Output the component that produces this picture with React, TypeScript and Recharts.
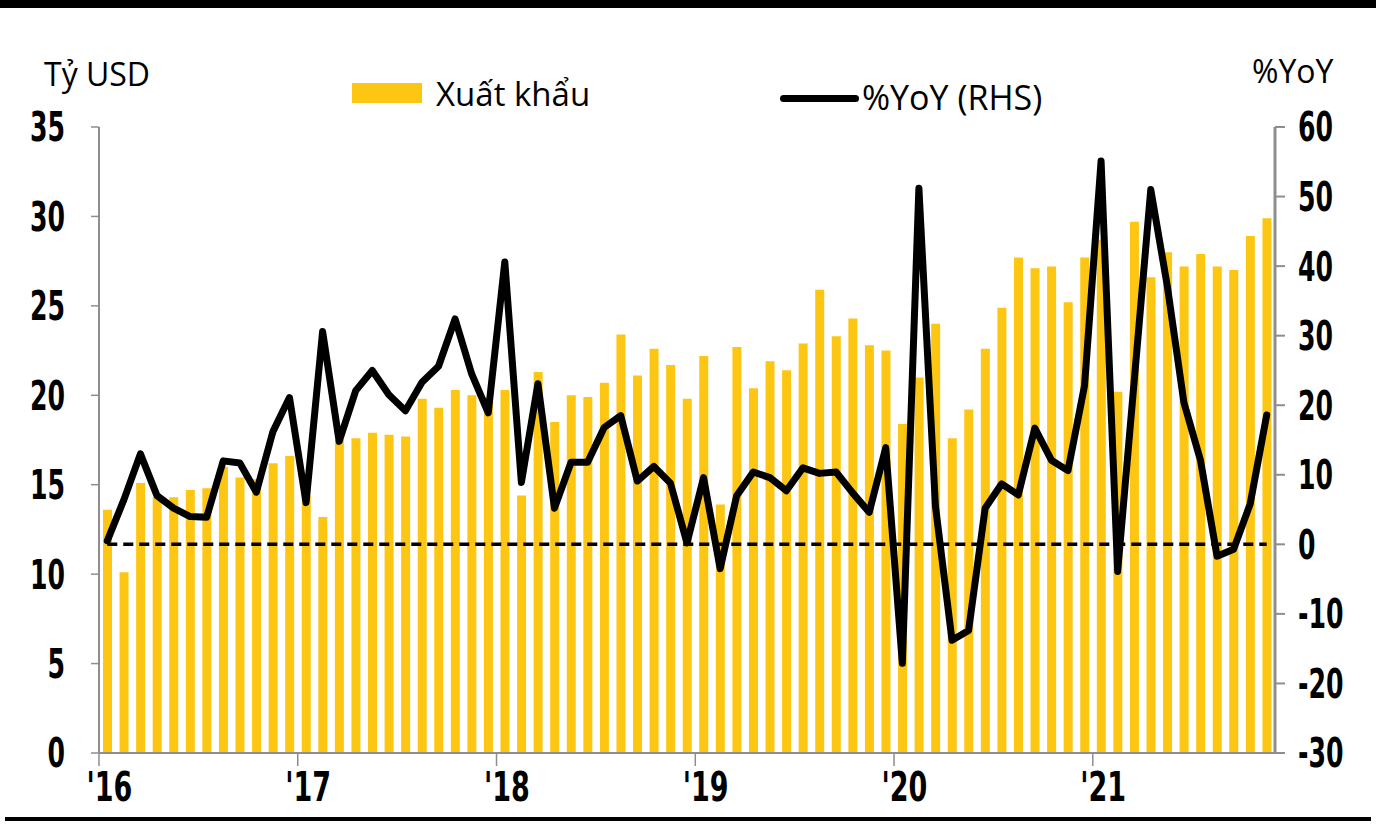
import React from 'react';
import { ComposedChart, Bar, Line, XAxis, YAxis, ReferenceLine, Legend } from 'recharts';

// month labels Jan 2016 .. Nov 2021
const years = ['16', '17', '18', '19', '20', '21'];
const monthNums = ['01', '02', '03', '04', '05', '06', '07', '08', '09', '10', '11', '12'];
const months = years.flatMap((y) => monthNums.map((m) => `${m}/${y}`)).slice(0, 71);

// Xuất khẩu, tỷ USD
const exportsBn = [
  13.6, 10.1, 15.1, 14.3, 14.3, 14.7, 14.8, 16.0, 15.4, 15.3, 16.2, 16.6,
  14.4, 13.2, 17.5, 17.6, 17.9, 17.8, 17.7, 19.8, 19.3, 20.3, 20.0, 19.9,
  20.3, 14.4, 21.3, 18.5, 20.0, 19.9, 20.7, 23.4, 21.1, 22.6, 21.7, 19.8,
  22.2, 13.9, 22.7, 20.4, 21.9, 21.4, 22.9, 25.9, 23.3, 24.3, 22.8, 22.5,
  18.4, 21.0, 24.0, 17.6, 19.2, 22.6, 24.9, 27.7, 27.1, 27.2, 25.2, 27.7,
  28.7, 20.2, 29.7, 26.6, 28.0, 27.2, 27.9, 27.2, 27.0, 28.9, 29.9,
];

// %YoY (RHS)
const yoyPct = [
  0.5, 6.4, 13.0, 7.0, 5.2, 4.0, 3.9, 12.0, 11.7, 7.5, 16.2, 21.1,
  6.0, 30.6, 14.8, 22.1, 25.0, 21.5, 19.2, 23.3, 25.6, 32.4, 24.5, 18.9,
  40.6, 8.9, 23.1, 5.2, 11.8, 11.8, 16.8, 18.5, 9.1, 11.2, 8.8, 0.2,
  9.6, -3.5, 7.0, 10.4, 9.6, 7.7, 11.0, 10.2, 10.4, 7.4, 4.6, 13.9,
  -17.1, 51.2, 5.5, -13.8, -12.4, 5.2, 8.7, 7.1, 16.7, 12.1, 10.6, 22.8,
  55.1, -3.9, 23.5, 51.0, 37.1, 20.4, 12.1, -1.7, -0.7, 5.8, 18.6,
];

const leftTicks = [0, 5, 10, 15, 20, 25, 30, 35];
const rightTicks = [-30, -20, -10, 0, 10, 20, 30, 40, 50, 60];

const data = months.map((m, i) => ({ m, exports: exportsBn[i], yoy: yoyPct[i] }));

const YELLOW = '#FDC613';
const GREY = '#8e8e8e';
const tickFont = "'Liberation Sans Narrow', 'DejaVu Sans Condensed', 'Liberation Sans', sans-serif";
const textFont = "'Open Sans', 'Noto Sans', sans-serif";

const YTick = (props: any) => {
  const { x, y, payload, textAnchor } = props;
  return (
    <g transform={`translate(${x},${y})`}>
      <text
        transform="scale(0.7,1)"
        textAnchor={textAnchor}
        dy="0.36em"
        fontFamily={tickFont}
        fontWeight="bold"
        fontSize={40}
        fill="#000"
      >
        {payload.value}
      </text>
    </g>
  );
};

const XTick = (props: any) => {
  const { x, y, payload } = props;
  const half = payload.offset || 8.28;
  return (
    <g>
      <line x1={x - half} x2={x - half} y1={y} y2={y + 13} stroke={GREY} strokeWidth={1.5} />
      <g transform={`translate(${x + 2},${y + 34})`}>
        <text
          transform="scale(0.75,1)"
          textAnchor="middle"
          dy="0.36em"
          fontFamily={tickFont}
          fontWeight="bold"
          fontSize={40}
          fill="#000"
        >
          {`'${String(payload.value).slice(3)}`}
        </text>
      </g>
    </g>
  );
};

const renderLegend = () => (
  <div style={{ position: 'relative', width: 1376, height: 60, fontFamily: textFont, fontSize: 33 }}>
    <div style={{ position: 'absolute', left: 352, top: 21, width: 70, height: 20, background: YELLOW }} />
    <div style={{ position: 'absolute', left: 436, top: 10, lineHeight: '44px' }}>Xuất khẩu</div>
    <div style={{ position: 'absolute', left: 780, top: 33, width: 79, height: 7, borderRadius: 4, background: '#000' }} />
    <div style={{ position: 'absolute', left: 862, top: 13, lineHeight: '44px', fontSize: 34 }}>%YoY (RHS)</div>
  </div>
);

const App = () => {
  return (
    <div style={{ position: 'absolute', left: 0, top: 0, width: 1376, height: 825, background: '#fff', overflow: 'hidden' }}>
      <div style={{ position: 'absolute', left: 0, top: 0, width: 1376, height: 8, background: '#000' }} />
      <div style={{ position: 'absolute', left: 5, top: 817, width: 1366, height: 4, background: '#000' }} />
      <div style={{ position: 'absolute', left: 44, top: 53, fontFamily: textFont, fontSize: 32, lineHeight: '42px' }}>Tỷ USD</div>
      <div style={{ position: 'absolute', left: 1252, top: 50, fontFamily: textFont, fontSize: 32, lineHeight: '42px' }}>%YoY</div>
      <div style={{ position: 'absolute', left: 0, top: 0 }}>
        <ComposedChart width={1376} height={825} data={data} margin={{ top: 127, right: 0, bottom: 22, left: 0 }}>
          <XAxis
            dataKey="m"
            interval={11}
            tickLine={false}
            tickSize={0}
            tickMargin={0}
            height={50}
            axisLine={{ stroke: GREY, strokeWidth: 2 }}
            tick={(p: any) => <XTick {...p} />}
          />
          <YAxis
            yAxisId="left"
            orientation="left"
            width={99}
            domain={[0, 35]}
            ticks={leftTicks}
            interval={0}
            tickSize={8}
            tickMargin={26}
            axisLine={{ stroke: GREY, strokeWidth: 2 }}
            tickLine={{ stroke: GREY, strokeWidth: 1.5 }}
            tick={(p: any) => <YTick {...p} />}
          />
          <YAxis
            yAxisId="right"
            orientation="right"
            width={101}
            domain={[-30, 60]}
            ticks={rightTicks}
            interval={0}
            tickSize={10}
            tickMargin={13}
            axisLine={{ stroke: GREY, strokeWidth: 3 }}
            tickLine={{ stroke: GREY, strokeWidth: 2 }}
            tick={(p: any) => <YTick {...p} />}
          />
          <Legend
            layout="horizontal"
            verticalAlign="middle"
            align="center"
            content={renderLegend}
            wrapperStyle={{ position: 'absolute', left: 0, top: 62, width: 1376, height: 60 }}
          />
          <Bar yAxisId="left" dataKey="exports" fill={YELLOW} barSize={9} isAnimationActive={false} />
          <ReferenceLine
            yAxisId="right"
            segment={[{ x: months[0], y: 0 }, { x: months[months.length - 1], y: 0 }]}
            stroke="#000"
            strokeWidth={3.5}
            strokeDasharray="10 6"
          />
          <Line
            yAxisId="right"
            dataKey="yoy"
            stroke="#000"
            strokeWidth={7}
            strokeLinejoin="round"
            strokeLinecap="round"
            dot={false}
            isAnimationActive={false}
          />
        </ComposedChart>
      </div>
    </div>
  );
};

export default App;
